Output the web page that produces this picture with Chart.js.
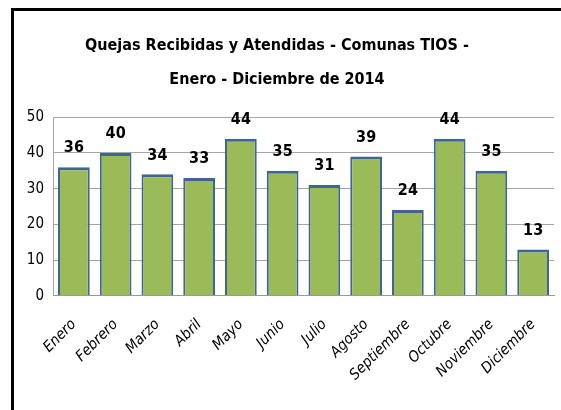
<!DOCTYPE html>
<html>
<head>
<meta charset="utf-8">
<script src="https://cdn.jsdelivr.net/npm/chart.js@4"></script>
<style>
html,body{margin:0;padding:0;background:#fff;}
#wrap{position:relative;width:561px;height:410px;overflow:hidden;}
#frame{position:absolute;left:11px;top:8px;width:560px;height:420px;border-top:3px solid #000;border-left:3px solid #000;box-sizing:border-box;pointer-events:none;}
canvas{position:absolute;left:0;top:0;}
</style>
</head>
<body>
<div id="wrap">
<canvas id="c" width="561" height="410"></canvas>
<div id="frame"></div>
</div>
<script>
const months = ["Enero","Febrero","Marzo","Abril","Mayo","Junio","Julio","Agosto","Septiembre","Octubre","Noviembre","Diciembre"];
const quejas = [36,40,34,33,44,35,31,39,24,44,35,13];
const titleLines = ["Quejas Recibidas y Atendidas - Comunas TIOS -","Enero - Diciembre de 2014"];
const yTicks = [0,10,20,30,40,50];

const FONT = "'DejaVu Sans Condensed','Liberation Sans Narrow',sans-serif";

const labelPlugin = {
  id: 'barLabels',
  afterDatasetsDraw(chart){
    const ctx = chart.ctx;
    const meta = chart.getDatasetMeta(0);
    ctx.save();
    ctx.font = "bold 16px " + FONT;
    ctx.fillStyle = "#000";
    ctx.textAlign = "center";
    ctx.textBaseline = "bottom";
    meta.data.forEach((bar,i)=>{
      ctx.fillText(String(quejas[i]), bar.x, bar.y - 11);
    });
    ctx.restore();
  }
};

const barFill = (context) => {
  const chart = context.chart;
  const el = context.element;
  if (!el || !chart.chartArea || !isFinite(el.x) || !isFinite(el.width) || !el.width) return "#9BBB59";
  const w = el.width;
  const g = chart.ctx.createLinearGradient(el.x - w/2, 0, el.x + w/2, 0);
  g.addColorStop(0, "#8AAA48");
  g.addColorStop(0.5, "#A6C866");
  g.addColorStop(1, "#8AAA48");
  return g;
};

new Chart(document.getElementById('c'), {
  type: 'bar',
  data: {
    labels: months,
    datasets: [{
      data: quejas,
      backgroundColor: barFill,
      borderColor: "#3F6593",
      borderWidth: {top:3,left:2,right:2,bottom:0},
      borderSkipped: false,
      categoryPercentage: 1,
      barPercentage: 0.76
    }]
  },
  options: {
    responsive: false,
    animation: false,
    devicePixelRatio: 1,
    layout: { padding: { left: 0, right: 7, top: 29, bottom: 6 } },
    plugins: {
      legend: { display: false },
      tooltip: { enabled: false },
      title: {
        display: true,
        text: titleLines,
        color: "#000",
        font: { family: FONT, size: 16, weight: 'bold', lineHeight: 2.1 },
        padding: { top: 0, bottom: 21 }
      }
    },
    scales: {
      x: {
        afterFit(axis){ axis.paddingRight = 0; axis.paddingLeft = 0; },
        grid: { display: false, drawTicks: false },
        border: { display: true, color: "#999", width: 1 },
        ticks: {
          color: "#000",
          font: { family: FONT, size: 15, style: 'italic' },
          maxRotation: 45, minRotation: 45,
          padding: 20,
          autoSkip: false
        }
      },
      y: {
        min: 0, max: 50,
        afterBuildTicks(axis){ axis.ticks = yTicks.map(v=>({value:v})); },
        afterFit(axis){ axis.width = 53; },
        grid: { color: "#A6A6A6", lineWidth: 1, drawTicks: false },
        border: { display: true, color: "#A6A6A6", width: 1 },
        ticks: {
          color: "#000",
          font: { family: FONT, size: 15 },
          padding: 9
        }
      }
    }
  },
  plugins: [labelPlugin]
});
</script>
</body>
</html>
